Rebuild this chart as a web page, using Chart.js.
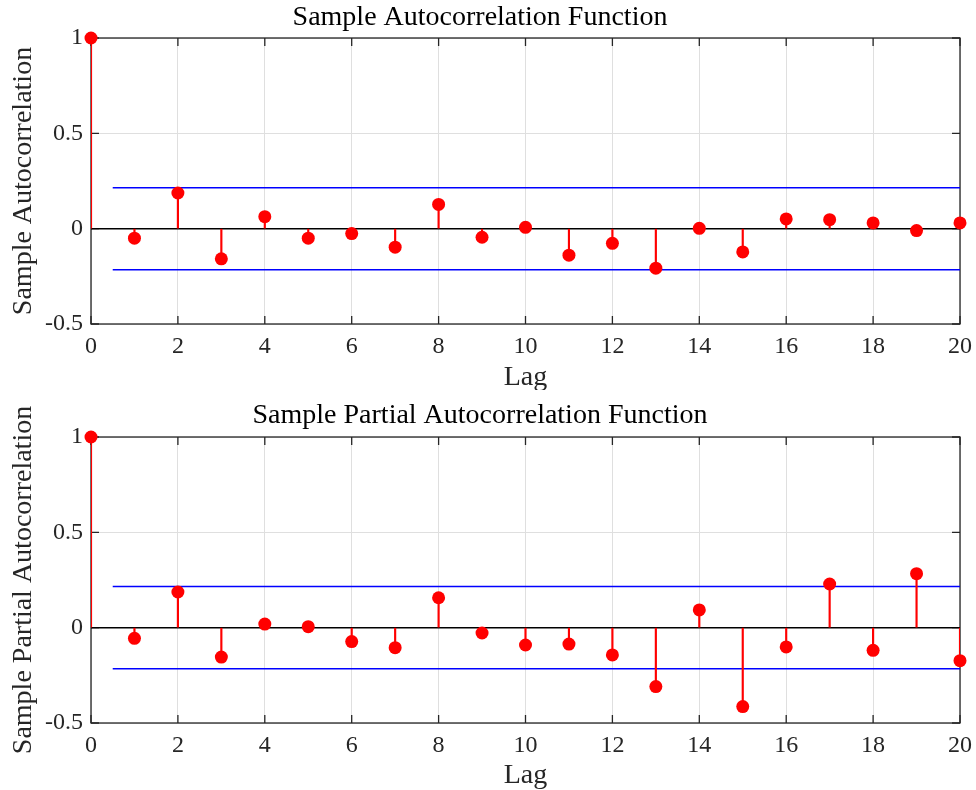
<!DOCTYPE html>
<html>
<head>
<meta charset="utf-8">
<script src="https://cdn.jsdelivr.net/npm/chart.js@4/dist/chart.umd.min.js"></script>
<style>
  html, body { margin: 0; padding: 0; background: #ffffff; }
  #wrap { position: relative; width: 976px; height: 790px; }
  #c1 { position: absolute; left: 0; top: 0; }
  #c2 { position: absolute; left: 0; top: 395px; }
</style>
</head>
<body>
<div id="wrap">
  <canvas id="c1" width="976" height="390"></canvas>
  <canvas id="c2" width="976" height="395"></canvas>
</div>
<script>
// ---- data ----
const lags = [0, 1, 2, 3, 4, 5, 6, 7, 8, 9, 10, 11, 12, 13, 14, 15, 16, 17, 18, 19, 20];
const acfValues = [1, -0.050, 0.187, -0.158, 0.063, -0.050, -0.026, -0.097, 0.127, -0.045, 0.007,
                   -0.139, -0.077, -0.207, 0.002, -0.122, 0.051, 0.047, 0.030, -0.010, 0.030];
const pacfValues = [1, -0.056, 0.187, -0.154, 0.019, 0.005, -0.073, -0.105, 0.157, -0.028, -0.091,
                    -0.086, -0.143, -0.309, 0.093, -0.414, -0.101, 0.229, -0.119, 0.283, -0.173];
const acfBound = 0.215;
const pacfBound = 0.216;
const boundLagRange = [0.5, 20];
const lagRange = [0, 20];
const lagStep = 2;
const valueRange = [-0.5, 1];
const valueStep = 0.5;
const titles = ['Sample Autocorrelation Function', 'Sample Partial Autocorrelation Function'];
const yLabels = ['Sample Autocorrelation', 'Sample Partial Autocorrelation'];
const xLabel = 'Lag';

// ---- style ----
const FONT = "'Liberation Serif', 'Times New Roman', serif";
const AXIS_COLOR = '#262626';
const GRID_COLOR = '#dfdfdf';

const boxPlugin = {
  id: 'matlabBox',
  beforeDatasetsDraw(chart) {
    const { ctx, chartArea: a, scales: { x, y } } = chart;
    ctx.save();
    ctx.strokeStyle = AXIS_COLOR;
    ctx.lineWidth = 1.3;
    ctx.strokeRect(a.left, a.top, a.right - a.left, a.bottom - a.top);
    const L = 8;
    ctx.beginPath();
    x.ticks.forEach(t => {
      const px = x.getPixelForValue(t.value);
      ctx.moveTo(px, a.bottom); ctx.lineTo(px, a.bottom - L);
      ctx.moveTo(px, a.top); ctx.lineTo(px, a.top + L);
    });
    y.ticks.forEach(t => {
      const py = y.getPixelForValue(t.value);
      ctx.moveTo(a.left, py); ctx.lineTo(a.left + L, py);
      ctx.moveTo(a.right, py); ctx.lineTo(a.right - L, py);
    });
    ctx.stroke();
    ctx.restore();
  }
};

function makeChart(canvasId, title, yLabel, values, bound, cfg) {
  const pts = lags.map((l, i) => ({ x: l, y: values[i] }));
  return new Chart(document.getElementById(canvasId), {
    type: 'scatter',
    data: {
      datasets: [
        {
          type: 'scatter', data: pts, order: 0,
          backgroundColor: '#ff0000', borderWidth: 0,
          pointRadius: 6.5, pointHoverRadius: 6.5, clip: false
        },
        {
          type: 'bar', data: pts, order: 1,
          backgroundColor: '#ff0000', borderWidth: 0,
          barThickness: 1.5, grouped: false
        },
        {
          type: 'line', data: [{ x: lagRange[0], y: 0 }, { x: lagRange[1], y: 0 }], order: 2,
          borderColor: '#000000', borderWidth: 1.5, pointRadius: 0, showLine: true, fill: false
        },
        {
          type: 'line', data: [{ x: boundLagRange[0], y: bound }, { x: boundLagRange[1], y: bound }], order: 3,
          borderColor: '#0000ff', borderWidth: 1.5, pointRadius: 0, showLine: true, fill: false
        },
        {
          type: 'line', data: [{ x: boundLagRange[0], y: -bound }, { x: boundLagRange[1], y: -bound }], order: 3,
          borderColor: '#0000ff', borderWidth: 1.5, pointRadius: 0, showLine: true, fill: false
        }
      ]
    },
    options: {
      responsive: false,
      animation: false,
      devicePixelRatio: 1,
      layout: { padding: { left: 0, right: 16, top: 0, bottom: 0 } },
      plugins: {
        legend: { display: false },
        tooltip: { enabled: false },
        title: {
          display: true, text: title, color: '#000000',
          font: { family: FONT, size: 28, weight: 'normal', lineHeight: 1.2 },
          padding: cfg.titlePad
        }
      },
      scales: {
        x: {
          type: 'linear', min: lagRange[0], max: lagRange[1], offset: false,
          afterFit(s) { s.height = cfg.xAxisHeight; s.paddingRight = 0; s.paddingLeft = 0; },
          ticks: { stepSize: lagStep, color: AXIS_COLOR, font: { family: FONT, size: 24 }, padding: 8, maxRotation: 0 },
          grid: { color: GRID_COLOR, lineWidth: 1, drawTicks: false, offset: false },
          border: { display: false },
          title: {
            display: true, text: xLabel, color: AXIS_COLOR,
            font: { family: FONT, size: 28, lineHeight: cfg.xTitleLH },
            padding: { top: 0, bottom: cfg.xTitleBottom }
          }
        },
        y: {
          type: 'linear', min: valueRange[0], max: valueRange[1],
          afterFit(s) { s.width = 91; },
          ticks: {
            stepSize: valueStep, color: AXIS_COLOR, font: { family: FONT, size: 24 }, padding: 8,
            callback: v => String(v)
          },
          grid: { color: GRID_COLOR, lineWidth: 1, drawTicks: false },
          border: { display: false },
          title: {
            display: true, text: yLabel, color: AXIS_COLOR,
            font: { family: FONT, size: 28, lineHeight: 1 },
            padding: { top: 10, bottom: 0 }
          }
        }
      }
    },
    plugins: [boxPlugin]
  });
}

makeChart('c1', titles[0], yLabels[0], acfValues, acfBound,
  { titlePad: { top: 1, bottom: 3.4 }, xAxisHeight: 66, xTitleBottom: 0, xTitleLH: 0.9 });
makeChart('c2', titles[1], yLabels[1], pacfValues, pacfBound,
  { titlePad: { top: 4, bottom: 4.4 }, xAxisHeight: 67, xTitleBottom: 0.5, xTitleLH: 1 });
</script>
</body>
</html>
